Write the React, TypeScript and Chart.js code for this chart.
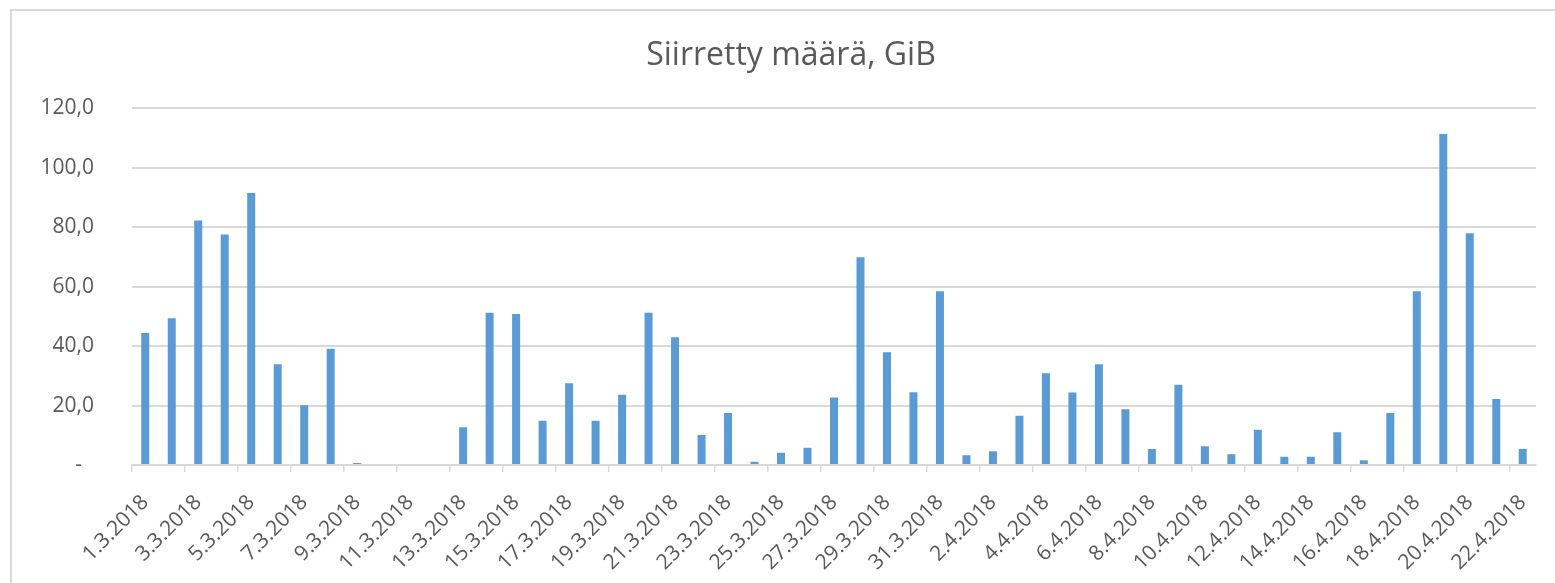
import React, { useEffect, useRef } from 'react';
import { Chart, registerables } from 'chart.js';

Chart.register(...registerables);

const TITLE = 'Siirretty määrä, GiB';

const categories: string[] = [
  '1.3.2018', '2.3.2018', '3.3.2018', '4.3.2018', '5.3.2018', '6.3.2018', '7.3.2018', '8.3.2018',
  '9.3.2018', '10.3.2018', '11.3.2018', '12.3.2018', '13.3.2018', '14.3.2018', '15.3.2018', '16.3.2018',
  '17.3.2018', '18.3.2018', '19.3.2018', '20.3.2018', '21.3.2018', '22.3.2018', '23.3.2018', '24.3.2018',
  '25.3.2018', '26.3.2018', '27.3.2018', '28.3.2018', '29.3.2018', '30.3.2018', '31.3.2018',
  '1.4.2018', '2.4.2018', '3.4.2018', '4.4.2018', '5.4.2018', '6.4.2018', '7.4.2018', '8.4.2018',
  '9.4.2018', '10.4.2018', '11.4.2018', '12.4.2018', '13.4.2018', '14.4.2018', '15.4.2018', '16.4.2018',
  '17.4.2018', '18.4.2018', '19.4.2018', '20.4.2018', '21.4.2018', '22.4.2018',
];

const values: number[] = [
  44.4, 49.4, 82.3, 77.6, 91.5, 33.9, 20.1, 39.1, 0.7, 0, 0, 0, 12.7, 51.2, 50.8, 14.9,
  27.5, 14.9, 23.6, 51.2, 43.0, 10.1, 17.5, 1.1, 4.1, 5.8, 22.7, 69.9, 37.9, 24.5, 58.5,
  3.3, 4.6, 16.6, 30.9, 24.4, 33.9, 18.8, 5.4, 27.0, 6.3, 3.6, 11.9, 2.8, 2.8, 11.0, 1.6,
  17.5, 58.5, 111.4, 78.0, 22.2, 5.4,
];

const Y_MIN = 0;
const Y_MAX = 120;
const Y_STEP = 20;

const FONT = "'Open Sans', 'DejaVu Sans', sans-serif";
const TEXT = '#595959';
const GRID = '#d9d9d9';
const BAR = '#5b9bd5';

const CANVAS_W = 1570;
const CANVAS_H = 583;

function fmtY(v: number): string {
  if (v === 0) return '-\u2007';
  return v.toFixed(1).replace('.', ',');
}

export default function App() {
  const ref = useRef<HTMLCanvasElement>(null);

  useEffect(() => {
    if (!ref.current) return;
    const chart = new Chart(ref.current, {
      type: 'bar',
      data: {
        labels: categories,
        datasets: [
          {
            label: TITLE,
            data: values,
            backgroundColor: BAR,
            borderWidth: 0,
            inflateAmount: 0,
            barThickness: 8,
            yAxisID: 'y',
          },
        ],
      },
      options: {
        responsive: false,
        animation: false,
        devicePixelRatio: 1,
        layout: { padding: { left: 12, right: 0, top: 37, bottom: 0 } },
        plugins: {
          legend: { display: false },
          tooltip: { enabled: false },
          title: {
            display: true,
            text: TITLE,
            color: TEXT,
            font: { family: FONT, size: 32, weight: 'normal' },
            padding: { top: 0, bottom: 33 },
          },
        },
        scales: {
          x: {
            offset: true,
            afterFit: (s: any) => { s.height = 118; },
            grid: {
              offset: true,
              drawOnChartArea: false,
              drawTicks: true,
              tickLength: 7,
              lineWidth: 1.5,
              color: (ctx: any) => (typeof ctx.index === 'number' && ctx.index % 2 === 0 ? GRID : 'rgba(0,0,0,0)'),
            },
            border: { display: true, color: GRID, width: 2 },
            ticks: {
              autoSkip: false,
              maxRotation: 45,
              minRotation: 45,
              padding: 18,
              color: TEXT,
              font: { family: FONT, size: 21 },
              callback: (_v: any, i: number) => (i % 2 === 0 ? categories[i] : ''),
            },
          },
          y: {
            min: Y_MIN,
            max: Y_MAX,
            afterFit: (s: any) => { s.width = 120; },
            grid: { color: GRID, lineWidth: 2, drawTicks: false },
            border: { display: false },
            ticks: {
              stepSize: Y_STEP,
              padding: 38,
              color: TEXT,
              font: { family: FONT, size: 21 },
              callback: (v: any) => fmtY(Number(v)),
            },
          },
          yRight: {
            type: 'linear',
            position: 'right',
            display: true,
            min: Y_MIN,
            max: Y_MAX,
            afterFit: (s: any) => { s.width = 34; },
            grid: { display: false, drawTicks: false },
            border: { display: false },
            ticks: { display: false },
          },
        },
      },
    });
    return () => chart.destroy();
  }, []);

  return (
    <div style={{ position: 'fixed', left: 0, top: 0, width: 1555, height: 583, overflow: 'hidden', background: '#fff' }}>
      <div
        style={{
          position: 'absolute', left: 10, top: 9, width: 2000, height: 2000,
          border: `2px solid ${GRID}`, boxSizing: 'border-box',
        }}
      />
      <canvas
        ref={ref}
        width={CANVAS_W}
        height={CANVAS_H}
        style={{ position: 'absolute', left: 0, top: 0, width: CANVAS_W, height: CANVAS_H }}
      />
    </div>
  );
}
